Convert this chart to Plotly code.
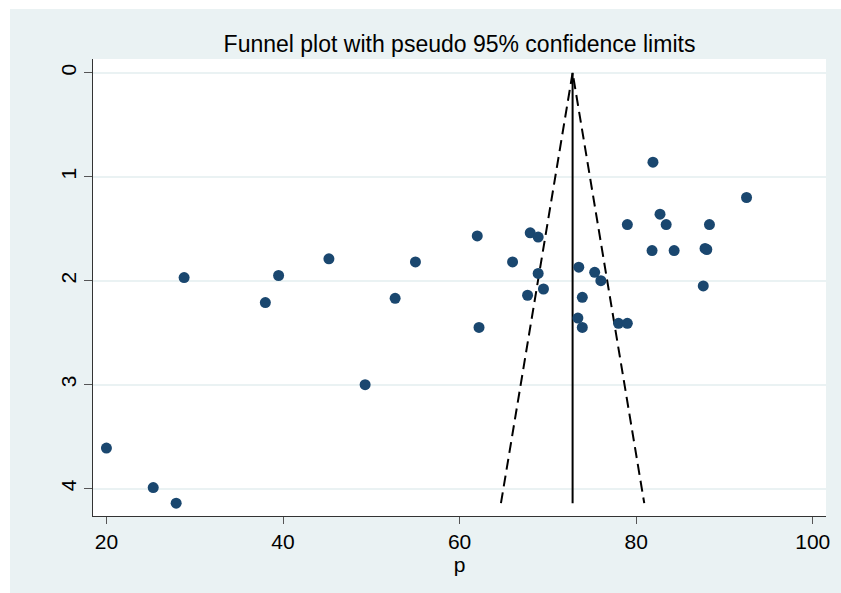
import plotly.graph_objects as go

# Study estimates (p) and their standard errors (s.e. of p)
p_vals = [28.8, 38.0, 39.5, 45.2, 52.7, 55.0,
          62.0, 68.0, 68.9, 66.0, 68.9, 69.5, 67.7, 62.2,
          73.5, 75.3, 76.0, 73.9, 73.4, 73.9, 78.0, 79.0,
          81.9, 92.5, 82.7, 83.4, 79.0, 88.3, 81.8, 84.3, 87.8, 88.0, 87.6,
          20.0, 25.3, 27.9, 49.3]
se_vals = [1.97, 2.21, 1.95, 1.79, 2.17, 1.82,
           1.57, 1.54, 1.58, 1.82, 1.93, 2.08, 2.14, 2.45,
           1.87, 1.92, 2.00, 2.16, 2.36, 2.45, 2.41, 2.41,
           0.86, 1.20, 1.36, 1.46, 1.46, 1.46, 1.71, 1.71, 1.69, 1.70, 2.05,
           3.61, 3.99, 4.14, 3.00]

# Pooled estimate and funnel limits
pooled = 72.8
se_max = 4.14
z95 = 1.96

x_ticks = [20, 40, 60, 80, 100]
y_ticks = [0, 1, 2, 3, 4]

title_text = "Funnel plot with pseudo 95% confidence limits"
x_title = "p"

BG = "#EAF2F3"
NAVY = "#1a476f"
FONT = "Liberation Sans, Arial, sans-serif"

W, H = 841, 593
ML, MR, MT, MB = 93, 15, 59, 77
PW, PH = W - ML - MR, H - MT - MB

fig = go.Figure()

# pseudo 95% limits
fig.add_trace(go.Scatter(
    x=[pooled - z95 * se_max, pooled, pooled + z95 * se_max],
    y=[se_max, 0, se_max],
    mode="lines",
    line=dict(color="black", width=2, dash="11px,6px"),
    hoverinfo="skip", showlegend=False))

# pooled line
fig.add_trace(go.Scatter(
    x=[pooled, pooled], y=[0, se_max],
    mode="lines",
    line=dict(color="black", width=2),
    hoverinfo="skip", showlegend=False))

# studies
fig.add_trace(go.Scatter(
    x=p_vals, y=se_vals, mode="markers",
    marker=dict(color=NAVY, size=11, line=dict(width=0)),
    showlegend=False))

fig.update_layout(
    width=W, height=H,
    margin=dict(l=ML, r=MR, t=MT, b=MB),
    paper_bgcolor=BG,
    plot_bgcolor="white",
    font=dict(family=FONT, color="black", size=21),
    title=dict(text=title_text, x=0.5, xref="paper",
               y=1 - 44 / H, yref="container", yanchor="middle",
               font=dict(size=23, family=FONT, color="black")),
    shapes=[
        # white page border at left and top
        dict(type="rect", xref="paper", yref="paper",
             x0=-ML / PW - 0.01, x1=(10 - ML) / PW,
             y0=-MB / PH - 0.01, y1=(H - MB) / PH + 0.01,
             fillcolor="white", line=dict(width=0), layer="below"),
        dict(type="rect", xref="paper", yref="paper",
             x0=-ML / PW - 0.01, x1=1 + MR / PW + 0.01,
             y0=(H - MB - 9) / PH, y1=(H - MB) / PH + 0.01,
             fillcolor="white", line=dict(width=0), layer="below"),
    ],
)

fig.update_xaxes(
    range=[18.48, 101.5],
    tickvals=x_ticks, ticktext=[str(v) for v in x_ticks],
    ticks="outside", ticklen=7, tickwidth=1, tickcolor="#555555",
    showline=True, linecolor="#333333", linewidth=1,
    showgrid=False, zeroline=False,
    tickfont=dict(size=21, family=FONT),
    title=dict(text=x_title, standoff=2, font=dict(size=21, family=FONT)),
    automargin=False,
)

fig.update_yaxes(
    range=[4.263, -0.132],
    tickvals=y_ticks, ticktext=[str(v) for v in y_ticks],
    tickangle=-90,
    ticks="outside", ticklen=8, tickwidth=1, tickcolor="#555555",
    showline=True, linecolor="#333333", linewidth=1,
    showgrid=True, gridcolor=BG, gridwidth=2,
    zeroline=False,
    tickfont=dict(size=21, family=FONT),
    automargin=False,
)

fig.write_html("out.html",
               config={"displayModeBar": False},
               post_script="document.body.style.margin='0';")
